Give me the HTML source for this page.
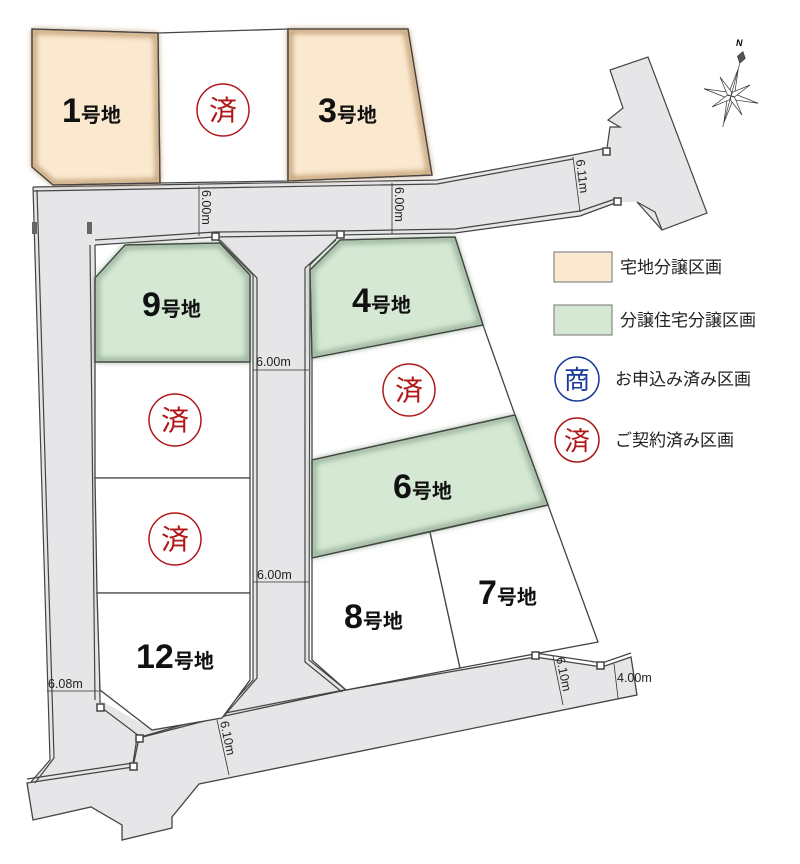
<!DOCTYPE html>
<html><head><meta charset="utf-8"><style>
html,body{margin:0;padding:0;background:#fff;}
svg{display:block;}
text{font-family:"Liberation Sans","Noto Sans CJK JP",sans-serif;}
</style></head><body>
<svg width="800" height="864" viewBox="0 0 800 864" xmlns="http://www.w3.org/2000/svg">
<defs>
<filter id="bl" x="-20%" y="-20%" width="140%" height="140%"><feGaussianBlur stdDeviation="3"/></filter>
<clipPath id="c1"><polygon points="32,29 158,33 160,183 53,185 32,167"/></clipPath>
<clipPath id="c3"><polygon points="288,29 408,29 432,175 288,181"/></clipPath>
<clipPath id="c9"><polygon points="95,278 125,245 220,243 250,275 250,362 95,362"/></clipPath>
<clipPath id="c4"><polygon points="310,270 340,240 455,237 483,325 312,358"/></clipPath>
<clipPath id="c6"><polygon points="312,460 515,415 548,505 312,558"/></clipPath>
</defs>

<!-- roads -->
<g fill="#e6e6e8" stroke="none">
<polygon points="33,187 437,180 573,155 607,148 610,127 620,127 608,120 623,108 610,70 648,57 707,213 662,230 637,202 618,202 580,216 455,233 340,235 215,237 95,245 95,260 34,260"/>
<polygon points="33,187 95,187 95,245 100,703 139,738 133,767 27,783 31,782 50,760 44,560 33,200"/>
<polygon points="215,237 340,235 310,265 309,660 346,690 253,690 253,680 220,717 253,680 253,275"/>
<polygon points="100,700 153,730 222,718 253,680 253,560 309,560 309,660 346,690 200,760 100,770"/>
</g>
<polygon points="27,783 133,767 139,738 220,717 346,690 535,657 602,667 631,657 637,695 199,784 172,817 172,828 122,840 122,825 91,807 33,820" fill="#e6e6e8" stroke="#444" stroke-width="1.3"/>
<!-- road edge lines -->
<g fill="none" stroke="#444" stroke-width="1.2">
<path d="M33,187 L437,180 L573,155 L607,148 L610,127 L620,127 L608,120 L623,108 L610,70 L648,57 L707,213 L662,230 L637,202"/>
<path d="M33,187 L44,560 L50,760 L31,782"/>
<path d="M95,245 L100,703"/><path d="M90,245 L95,700"/>
<path d="M37,190 L48,560 L54,758 L35,783"/>
<path d="M215,237 L253,275 L253,680 L220,717"/><path d="M220,240 L257,278 L257,678 L224,716"/>
<path d="M340,235 L310,265 L309,660 L346,690"/><path d="M336,240 L305,268 L305,662 L342,692"/>
<path d="M95,245 L215,237 L340,235 L455,233 L580,216 L618,202"/>
<path d="M95,240 L215,232 L340,231 L455,229 L580,211 L618,198"/>
<path d="M637,202 L655,212 L662,230"/>
<path d="M27,779 L133,763 L137,738 L220,714 L535,653 L602,663 L631,653"/>
<path d="M102,708 L139,736"/>
<path d="M33,191 L437,184 L573,159"/>
</g>

<!-- lots -->
<g stroke="#444" stroke-width="1.3">
<polygon points="32,29 158,33 160,183 53,185 32,167" fill="#fbe9cf"/>
<polygon points="158,33 288,29 288,181 160,183" fill="#fff"/>
<polygon points="288,29 408,29 432,175 288,181" fill="#fbe9cf"/>
<polygon points="95,278 125,245 220,243 250,275 250,362 95,362" fill="#d5e8d4"/>
<polygon points="95,362 250,362 250,478 95,478" fill="#fff"/>
<polygon points="95,478 250,478 250,593 97,593" fill="#fff"/>
<polygon points="97,593 250,593 250,680 222,718 152,730 100,690" fill="#fff"/>
<polygon points="310,270 340,240 455,237 483,325 312,358" fill="#d5e8d4"/>
<polygon points="312,358 483,325 515,415 312,460" fill="#fff"/>
<polygon points="312,460 515,415 548,505 312,558" fill="#d5e8d4"/>
<polygon points="312,558 430,532 460,668 346,690 312,660" fill="#fff"/>
<polygon points="430,532 548,505 598,642 460,668" fill="#fff"/>
</g>
<g fill="none" filter="url(#bl)">
<polygon clip-path="url(#c1)" points="32,29 158,33 160,183 53,185 32,167" stroke="#b08858" stroke-width="8"/>
<polygon clip-path="url(#c3)" points="288,29 408,29 432,175 288,181" stroke="#b08858" stroke-width="8"/>
<polygon clip-path="url(#c9)" points="95,278 125,245 220,243 250,275 250,362 95,362" stroke="#7a987a" stroke-width="7"/>
<polygon clip-path="url(#c4)" points="310,270 340,240 455,237 483,325 312,358" stroke="#7a987a" stroke-width="7"/>
<polygon clip-path="url(#c6)" points="312,460 515,415 548,505 312,558" stroke="#7a987a" stroke-width="7"/>
</g>
<g stroke="#444" stroke-width="1.3" fill="none">
<polygon points="32,29 158,33 160,183 53,185 32,167"/>
<polygon points="288,29 408,29 432,175 288,181"/>
<polygon points="95,278 125,245 220,243 250,275 250,362 95,362"/>
<polygon points="310,270 340,240 455,237 483,325 312,358"/>
<polygon points="312,460 515,415 548,505 312,558"/>
</g>

<!-- small boxes -->
<g fill="#fff" stroke="#444" stroke-width="1.5">
<rect x="212" y="233" width="7" height="7"/><rect x="337" y="231" width="7" height="7"/>
<rect x="603" y="148" width="7" height="7"/><rect x="614" y="198" width="7" height="7"/>
<rect x="97" y="704" width="7" height="7"/><rect x="136" y="735" width="7" height="7"/>
<rect x="130" y="763" width="7" height="7"/><rect x="532" y="652" width="7" height="7"/>
<rect x="597" y="662" width="7" height="7"/>
</g>
<g fill="#666"><rect x="32" y="222" width="5" height="12"/><rect x="87" y="222" width="5" height="12"/></g>

<!-- dimension lines -->
<g stroke="#333" stroke-width="0.8" fill="none">
<line x1="199" y1="186" x2="199" y2="236"/><line x1="392" y1="183" x2="392" y2="234"/>
<line x1="573" y1="157" x2="580" y2="212"/>
<line x1="253" y1="370" x2="309" y2="370"/><line x1="253" y1="582" x2="309" y2="582"/>
<line x1="47" y1="691" x2="99" y2="691"/>
<line x1="217" y1="720" x2="229" y2="775"/><line x1="553" y1="656" x2="563" y2="705"/>
<line x1="614" y1="664" x2="618" y2="698"/>
</g>
<g font-size="12.5" fill="#222">
<text transform="translate(202,190) rotate(90)">6.00m</text>
<text transform="translate(395,187) rotate(90)">6.00m</text>
<text transform="translate(576,160) rotate(83)">6.11m</text>
<text x="256" y="366">6.00m</text>
<text x="257" y="579">6.00m</text>
<text x="48" y="688">6.08m</text>
<text transform="translate(220,722) rotate(78)">6.10m</text>
<text transform="translate(556,658) rotate(78)">6.10m</text>
<text x="617" y="682">4.00m</text>
</g>

<!-- lot labels -->
<g fill="#111" font-weight="bold">
<text x="62" y="122" font-size="34">1<tspan font-size="20">号地</tspan></text>
<text x="318" y="122" font-size="34">3<tspan font-size="20">号地</tspan></text>
<text x="142" y="316" font-size="34">9<tspan font-size="20">号地</tspan></text>
<text x="352" y="312" font-size="34">4<tspan font-size="20">号地</tspan></text>
<text x="393" y="498" font-size="34">6<tspan font-size="20">号地</tspan></text>
<text x="344" y="628" font-size="34">8<tspan font-size="20">号地</tspan></text>
<text x="478" y="604" font-size="34">7<tspan font-size="20">号地</tspan></text>
<text x="136" y="668" font-size="34">12<tspan font-size="20">号地</tspan></text>
</g>
<g fill="none" stroke="#b01818" stroke-width="1.5">
<circle cx="223" cy="110" r="26"/><circle cx="409" cy="390" r="26"/>
<circle cx="175" cy="420" r="26"/><circle cx="175" cy="539" r="26"/>
<circle cx="577" cy="440" r="22"/>
</g>
<g fill="#b01818" font-size="28" text-anchor="middle">
<text x="223" y="120">済</text><text x="409" y="400">済</text>
<text x="175" y="430">済</text><text x="175" y="549">済</text>
<text x="577" y="450" font-size="26">済</text>
</g>
<circle cx="577" cy="379" r="22" fill="none" stroke="#1a3a9a" stroke-width="1.5"/>
<text x="577" y="389" font-size="26" fill="#1a3a9a" text-anchor="middle">商</text>

<!-- legend -->
<rect x="554" y="252" width="58" height="30" fill="#fbe9cf" stroke="#888" stroke-width="1.2"/>
<rect x="554" y="305" width="58" height="30" fill="#d5e8d4" stroke="#888" stroke-width="1.2"/>
<g font-size="17" fill="#222">
<text x="620" y="273">宅地分譲区画</text>
<text x="620" y="326">分譲住宅分譲区画</text>
<text x="615" y="385">お申込み済み区画</text>
<text x="615" y="446">ご契約済み区画</text>
</g>

<!-- compass -->
<g stroke="#333" stroke-width="0.7" fill="#fff" transform="rotate(15 731 96)">
<polygon points="731,68 734,93 731,96 728,93"/>
<polygon points="731,68 734,93 731,96 728,93" transform="rotate(90 731 96)"/>
<polygon points="731,68 734,93 731,96 728,93" transform="rotate(180 731 96)"/>
<polygon points="731,68 734,93 731,96 728,93" transform="rotate(270 731 96)"/>
<polygon points="731,74 733.5,93 731,96 728.5,93" transform="rotate(45 731 96)"/>
<polygon points="731,74 733.5,93 731,96 728.5,93" transform="rotate(135 731 96)"/>
<polygon points="731,74 733.5,93 731,96 728.5,93" transform="rotate(225 731 96)"/>
<polygon points="731,74 733.5,93 731,96 728.5,93" transform="rotate(315 731 96)"/>
<line x1="731" y1="62" x2="731" y2="128"/>
<polygon points="731,50 735,56 731,62 727,56" fill="#555"/>
</g>
<text x="736" y="46" font-size="9" font-weight="bold" font-style="italic" font-family="Liberation Serif,serif">N</text>
</svg>
</body></html>
